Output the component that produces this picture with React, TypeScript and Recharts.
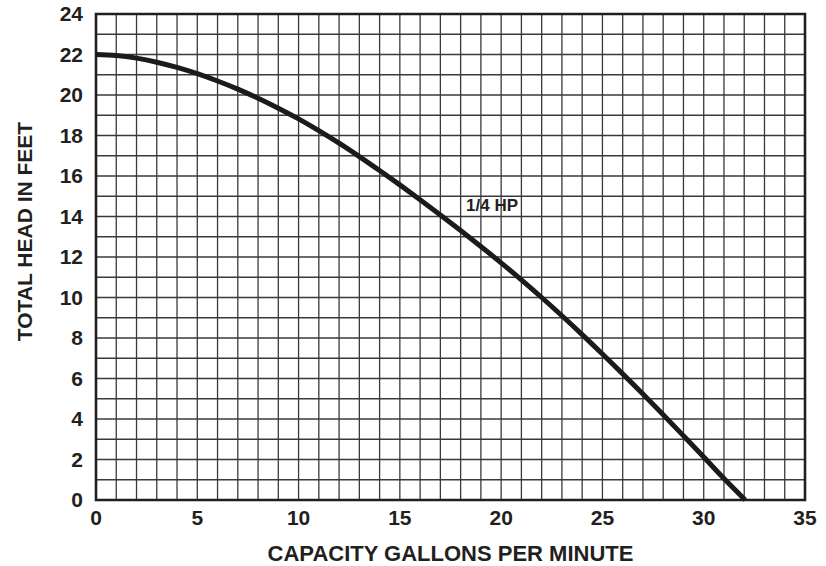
import React from 'react';
import { LineChart, Line, XAxis, YAxis, CartesianGrid, ReferenceArea, ReferenceDot } from 'recharts';

// pump curve (gpm vs feet of head)
const gpm = [0, 1, 2, 3, 4, 5, 6, 7, 8, 9, 10, 11, 12, 13, 14, 15, 16, 17, 18, 19, 20, 21, 22, 23, 24, 25, 26, 27, 28, 29, 30, 31, 32.05];
const head = [22.0, 21.95, 21.82, 21.62, 21.36, 21.05, 20.69, 20.29, 19.84, 19.35, 18.82, 18.24, 17.62, 16.96, 16.27, 15.56, 14.83, 14.08, 13.31, 12.52, 11.71, 10.87, 10.0, 9.1, 8.17, 7.21, 6.23, 5.23, 4.21, 3.17, 2.12, 1.06, 0];

const xLabelTicks = [0, 5, 10, 15, 20, 25, 30, 35];
const yLabelTicks = [0, 2, 4, 6, 8, 10, 12, 14, 16, 18, 20, 22, 24];
// one grid line per unit
const xGrid = Array.from({ length: 36 }, (_, i) => i);
const yGrid = Array.from({ length: 25 }, (_, i) => i);

const curveLabel = { text: '1/4 HP', x: 19.55, y: 14.55 };

const FONT = '"Liberation Sans", Arial, Helvetica, sans-serif';
const INK = '#231f20';

const chartData = gpm.map((g, i) => ({ gpm: g, head: head[i] }));

const YTitle = () => (
  <text x={32} y={231.5} transform="rotate(-90 32 231.5)" textAnchor="middle" fontFamily={FONT} fontWeight="bold" fontSize={21} fill={INK}>
    TOTAL HEAD IN FEET
  </text>
);

export default function App() {
  return (
    <div style={{ position: 'absolute', left: 0, top: 0, width: 826, height: 566, background: '#fff' }}>
      <LineChart width={826} height={566} data={chartData} margin={{ top: 14, right: 21, left: 0, bottom: 0 }}>
        <CartesianGrid stroke="#3a3a3a" strokeWidth={1.3} />
        <XAxis
          dataKey="gpm"
          type="number"
          domain={[0, 35]}
          ticks={xGrid}
          interval={0}
          tickFormatter={(v: number) => (xLabelTicks.includes(v) ? String(v) : '')}
          tickLine={false}
          axisLine={false}
          tickSize={0}
          tickMargin={10}
          height={66}
          tick={{ fontSize: 21, fontWeight: 'bold', fill: INK, fontFamily: FONT }}
          label={{ value: 'CAPACITY GALLONS PER MINUTE', position: 'insideBottom', offset: 5, fontSize: 22, fontWeight: 'bold', fill: INK, fontFamily: FONT }}
        />
        <YAxis
          type="number"
          domain={[0, 24]}
          ticks={yGrid}
          interval={0}
          tickFormatter={(v: number) => (yLabelTicks.includes(v) ? String(v) : '')}
          tickLine={false}
          axisLine={false}
          tickSize={0}
          tickMargin={13}
          width={96}
          tick={{ fontSize: 21, fontWeight: 'bold', fill: INK, fontFamily: FONT }}
          label={{ content: () => <YTitle /> }}
        />
        <ReferenceArea x1={0} x2={35} y1={0} y2={24} fill="none" stroke="#231f20" strokeWidth={2.6} ifOverflow="visible" />
        <Line
          type="monotone"
          dataKey="head"
          stroke="#1e1a1a"
          strokeWidth={5}
          dot={false}
          activeDot={false}
          isAnimationActive={false}
        />
        <ReferenceDot
          x={curveLabel.x}
          y={curveLabel.y}
          r={0}
          fill="none"
          stroke="none"
          label={{ value: curveLabel.text, position: 'center', fontSize: 17, fontWeight: 'bold', fill: INK, fontFamily: FONT }}
        />
      </LineChart>
    </div>
  );
}
